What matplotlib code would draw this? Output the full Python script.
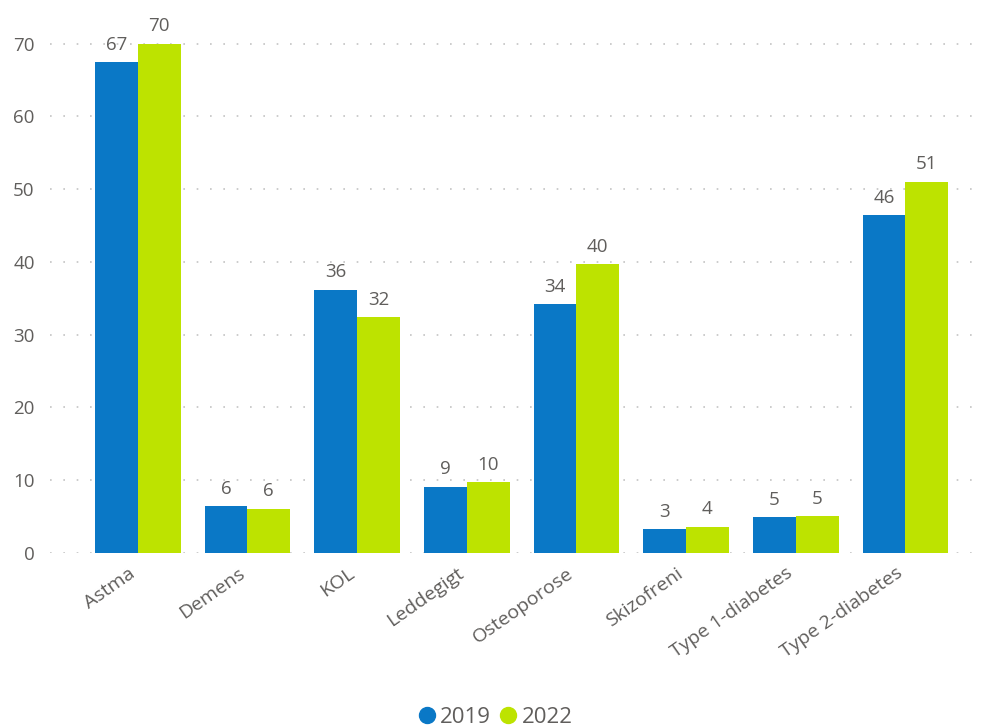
import matplotlib
matplotlib.use("Agg")
import matplotlib.pyplot as plt
import numpy as np
from matplotlib.lines import Line2D

plt.rcParams['font.family'] = ['Open Sans', 'DejaVu Sans']

# data
categories = ["Astma", "Demens", "KOL", "Leddegigt", "Osteoporose",
              "Skizofreni", "Type 1-diabetes", "Type 2-diabetes"]
years = ["2019", "2022"]
values_2019 = [67.4, 6.4, 36.2, 9.1, 34.2, 3.3, 4.9, 46.4]
values_2022 = [70.0, 6.1, 32.4, 9.7, 39.7, 3.6, 5.1, 51.0]
yticks = [0, 10, 20, 30, 40, 50, 60, 70]

BLUE = "#0A78C6"
GREEN = "#BDE300"
GREY = "#605E5C"

fig = plt.figure(figsize=(9.82, 7.26), dpi=100)
ax = fig.add_axes([50 / 982, 1 - 553 / 726, 930 / 982, 524 / 726])

x = np.arange(len(categories))
w = 0.39
b1 = ax.bar(x - w / 2, values_2019, w, color=BLUE, zorder=3)
b2 = ax.bar(x + w / 2, values_2022, w, color=GREEN, zorder=3)

for bars, vals in ((b1, values_2019), (b2, values_2022)):
    for r, v in zip(bars, vals):
        ax.annotate(f"{round(v)}", (r.get_x() + r.get_width() / 2, v),
                    xytext=(0, 6), textcoords="offset points",
                    ha="center", va="bottom", fontsize=13.5, color=GREY)

ax.set_ylim(0, 72)
ax.set_xlim(-0.80, 7.68)
ax.set_yticks(yticks)
# rotated labels sit a little left of the group centre in the original
ax.set_xticks(x - 0.09)
ax.set_xticklabels(categories, rotation=35, ha="right",
                   rotation_mode="anchor", fontsize=14, color=GREY)
ax.tick_params(axis="y", length=0, labelsize=13.5, labelcolor=GREY, pad=11)
ax.tick_params(axis="x", length=0, pad=8)
ax.yaxis.grid(True, color="#c4c4c4", linestyle=(0, (1, 7)), linewidth=1.2,
              zorder=0)
for s in ax.spines.values():
    s.set_visible(False)

handles = [Line2D([], [], marker="o", linestyle="", markersize=11.5,
                  color=c) for c in (BLUE, GREEN)]
fig.legend(handles, years, loc="lower center", bbox_to_anchor=(0.505, -0.03),
           ncol=2, frameon=False, fontsize=16, handlelength=0.7,
           handletextpad=0.25, columnspacing=0.43, labelcolor=GREY)

fig.savefig("out.png", dpi=100)
